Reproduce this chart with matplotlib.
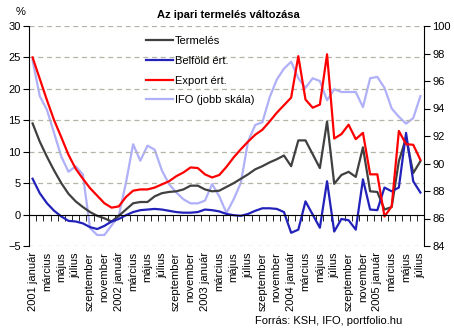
import numpy as np
import matplotlib
matplotlib.use("Agg")
import matplotlib.pyplot as plt

# ----------------------------------------------------------------------
# Data, monthly from 2001 January to 2005 July
# ----------------------------------------------------------------------

years = [2001, 2002, 2003, 2004, 2005]
month_names = ["január", "március", "május", "július", "szeptember", "november"]

termeles = [14.5, 11.6, 9.2, 7.0, 5.0, 3.3, 2.1, 1.2, 0.4, -0.2, -0.6, -1.1,
            -0.2, 0.8, 1.8, 2.0, 2.0, 2.9, 3.4, 3.6, 3.7, 4.0, 4.6, 4.6,
            4.0, 3.7, 3.8, 4.4, 5.0, 5.7, 6.4, 7.2, 7.7, 8.3, 8.8, 9.4,
            7.7, 11.8, 11.8, 9.6, 7.4, 14.8, 4.9, 6.3, 6.8, 6.0, 10.7, 3.7,
            3.6, 0.8, 1.2, 8.5, 12.2, 6.6, 8.5]

belfold = [5.7, 3.4, 1.8, 0.6, -0.3, -1.0, -1.1, -1.4, -2.0, -2.3, -1.8, -1.1,
           -0.7, -0.1, 0.4, 0.7, 0.8, 0.9, 0.8, 0.6, 0.4, 0.3, 0.3, 0.4,
           0.8, 0.7, 0.5, 0.1, -0.1, -0.2, 0.1, 0.6, 1.0, 1.0, 0.9, 0.4,
           -2.9, -2.4, 2.1, 0.0, -2.1, 5.3, -2.7, -0.7, -0.9, -2.4, 5.6, 0.8,
           0.7, 4.3, 3.7, 4.3, 13.0, 5.3, 3.5]

export = [25.0, 21.6, 18.2, 15.0, 12.3, 9.5, 7.3, 5.7, 4.2, 3.0, 1.8, 1.1,
          1.3, 2.8, 3.8, 4.0, 4.0, 4.3, 4.8, 5.3, 6.1, 6.7, 7.5, 7.4,
          6.4, 5.9, 6.3, 7.6, 9.1, 10.4, 11.6, 12.7, 13.5, 14.8, 16.2, 17.4,
          18.6, 25.2, 18.3, 17.0, 17.5, 25.5, 12.1, 12.8, 14.3, 12.0, 13.0, 6.4,
          6.4, -0.3, 1.3, 13.3, 11.2, 11.1, 8.7]

ifo = [97.5, 94.9, 93.9, 92.2, 90.5, 89.4, 89.8, 89.2, 85.3, 84.8, 84.8, 85.5,
       86.2, 88.6, 91.4, 90.2, 91.3, 91.0, 89.5, 88.5, 87.9, 87.4, 87.1, 87.1,
       87.3, 88.5, 87.6, 86.4, 87.4, 88.6, 91.6, 92.8, 93.0, 94.8, 96.1, 96.9,
       97.4, 96.2, 95.5, 96.2, 96.0, 94.6, 95.4, 95.2, 95.2, 95.2, 94.1, 96.2,
       96.3, 95.5, 94.0, 93.4, 92.9, 93.3, 94.9]

# tick labels: every second month, year in front of January
tick_labels = []
for y in years:
    for m in month_names:
        tick_labels.append(f"{y} {m}" if m == "január" else m)
tick_labels = tick_labels[:len(termeles[::2])]

# ----------------------------------------------------------------------
# Plot
# ----------------------------------------------------------------------

plt.rcParams["font.family"] = ["Liberation Sans", "DejaVu Sans"]
plt.rcParams["font.size"] = 8

fig = plt.figure(figsize=(4.54, 3.35), dpi=100)
ax = fig.add_axes([29 / 454, 1 - 246 / 335, 395 / 454, 220 / 335])
ax2 = ax.twinx()
ax.set_zorder(2)
ax.patch.set_visible(False)

x = np.arange(len(termeles))

l1, = ax.plot(x, termeles, color="#404040", lw=1.6, label="Termelés")
l2, = ax.plot(x, belfold, color="#2222bb", lw=1.6, label="Belföld ért.")
l3, = ax.plot(x, export, color="#ff0000", lw=1.6, label="Export ért.")
l4, = ax2.plot(x, ifo, color="#b0b0f8", lw=1.6, label="IFO (jobb skála)")

ax.set_xlim(-0.5, len(x) - 0.5)
ax.set_ylim(-5, 30)
ax.set_yticks(np.arange(-5, 31, 5))
ax2.set_ylim(84, 100)
ax2.set_yticks(np.arange(84, 101, 2))

ax.yaxis.grid(True, color="#b4b4a8", linestyle=(0, (4, 3)), lw=0.9)
ax.set_axisbelow(True)

# category axis crosses at 0
ax.spines["bottom"].set_position(("data", 0))
ax.spines["top"].set_visible(False)
ax.spines["right"].set_visible(False)
for s in ["top", "bottom", "left"]:
    ax2.spines[s].set_visible(False)

ax.set_xticks(x[::2])
ax.set_xticklabels(tick_labels, rotation=90)
ax.set_xticks(np.arange(-0.5, len(x), 1), minor=True)
ax.tick_params(axis="x", which="major", length=0, pad=27)
ax.tick_params(axis="x", which="minor", length=4, direction="out")
ax.tick_params(axis="y", length=4, pad=2)
ax2.tick_params(axis="y", length=4, pad=2)

ax.legend(handles=[l1, l2, l3, l4], loc="upper left",
          bbox_to_anchor=(146 / 454, 1 - 36 / 335), bbox_transform=fig.transFigure,
          frameon=False, borderpad=0, borderaxespad=0, labelspacing=0.88,
          handlelength=2.4, handletextpad=0.2)

fig.text(228 / 454, 1 - 15 / 335, "Az ipari termelés változása",
         ha="center", va="center", weight="bold")
fig.text(21 / 454, 1 - 12 / 335, "%", ha="center", va="center")
fig.text(329 / 454, 1 - 321 / 335, "Forrás: KSH, IFO, portfolio.hu",
         ha="center", va="center")

fig.savefig("out.png", dpi=100)
